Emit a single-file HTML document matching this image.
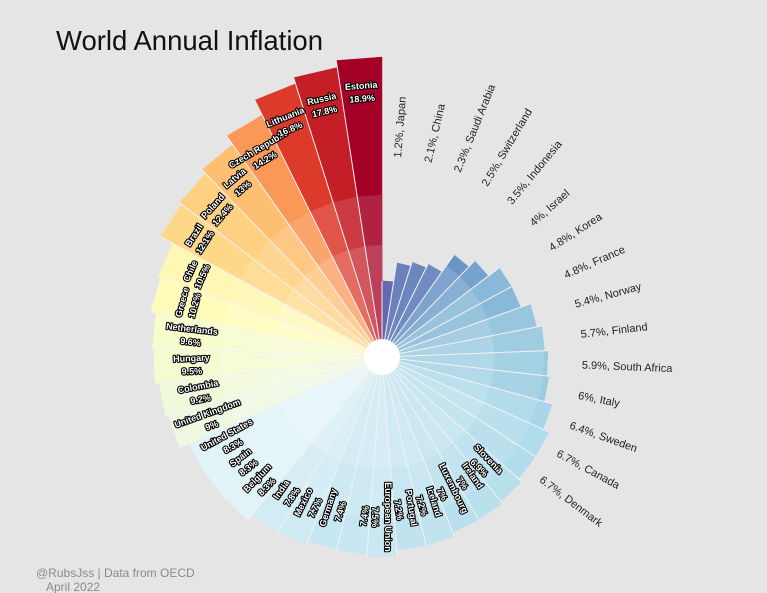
<!DOCTYPE html>
<html><head><meta charset="utf-8">
<style>
html,body{margin:0;padding:0;background:#e5e5e5;}
svg{display:block;font-family:"Liberation Sans",sans-serif;}
.in{font-weight:bold;font-size:9px;fill:#fff;stroke:#000;stroke-width:2.2px;paint-order:stroke;stroke-linejoin:round;}
.out{font-size:11px;fill:#222;}
</style></head>
<body>
<svg id="chart" width="767" height="593" viewBox="0 0 767 593">
<rect width="767" height="593" fill="#e5e5e5"/>
<text x="56" y="50" font-size="27.5" fill="#111">World Annual Inflation</text>
<g id="bars"></g>
<g id="seps"></g>
<g id="labels"></g>
<circle cx="382" cy="357" r="18" fill="#fff"/>
<text x="36" y="577" font-size="12" fill="#8a8a8a">@RubsJss | Data from OECD</text>
<text x="46" y="591" font-size="12" fill="#8a8a8a">April 2022</text>
</svg>
<script>
const countries = ["Japan","China","Saudi Arabia","Switzerland","Indonesia","Israel","Korea","France","Norway","Finland","South Africa","Italy","Sweden","Canada","Denmark","Slovenia","Ireland","Luxembourg","Iceland","Portugal","European Union","","Germany","Mexico","India","Belgium","Spain","United States","United Kingdom","Colombia","Hungary","Netherlands","Greece","Chile","Brazil","Poland","Latvia","Czech Republic","Lithuania","Russia","Estonia"];
const inflation = [1.2,2.1,2.3,2.5,3.5,4,4.8,4.8,5.4,5.7,5.9,6,6.4,6.7,6.7,6.9,7,7,7.2,7.2,7.5,7.4,7.4,7.7,7.8,8.3,8.3,8.3,9,9.2,9.5,9.6,10.2,10.5,12.1,12.4,13,14.2,16.8,17.8,18.9];
const valueText = ["1.2%","2.1%","2.3%","2.5%","3.5%","4%","4.8%","4.8%","5.4%","5.7%","5.9%","6%","6.4%","6.7%","6.7%","6.9%","7%","7%","7.2%","7.2%","7.5%","7.4%","7.4%","7.7%","7.8%","8.3%","8.3%","8.3%","9%","9.2%","9.5%","9.6%","10.2%","10.5%","12.1%","12.4%","13%","14.2%","16.8%","17.8%","18.9%"];
const palette = ["#313695","#4575b4","#74add1","#abd9e9","#e0f3f8","#ffffbf","#fee090","#fdae61","#f46d43","#d73027","#a50026"];
// radial scale knots (domain value -> pixel radius), a scale not data
const scaleDom = [0,1.2,3.5,5.9,7.5,9.6,12.1,14.2,18.9,25];
const scaleRng = [40,76,125,166,200,230,252,270,300,330];

const NS="http://www.w3.org/2000/svg";
const cx=382, cy=357;
const n=countries.length, step=360/n;
const vmin=Math.min(...inflation), vmax=Math.max(...inflation);
function rScale(v){
  for(let k=0;k<scaleDom.length-1;k++){
    if(v<=scaleDom[k+1]){const f=(v-scaleDom[k])/(scaleDom[k+1]-scaleDom[k]);return scaleRng[k]+f*(scaleRng[k+1]-scaleRng[k]);}
  }
  return scaleRng[scaleRng.length-1];
}
function pt(r,deg){const a=deg*Math.PI/180;return [cx+r*Math.sin(a),cy-r*Math.cos(a)];}
function hex(c){return [1,3,5].map(k=>parseInt(c.substr(k,2),16));}
function colorFor(v){
  let t=(v-vmin)/(vmax-vmin);t=Math.max(0,Math.min(1,t))*(palette.length-1);
  const k=Math.min(Math.floor(t),palette.length-2),f=t-k;
  const a=hex(palette[k]),b=hex(palette[k+1]);
  return a.map((x,j)=>x+(b[j]-x)*f);
}
function lighten(c,a){return 'rgb('+c.map(x=>Math.round(x+(255-x)*a)).join(',')+')';}
const bars=document.getElementById('bars'), labels=document.getElementById('labels'), seps=document.getElementById('seps');
function wedge(r,a0,a1,fill){
  const p0=pt(r,a0),p1=pt(r,a1);
  const el=document.createElementNS(NS,'polygon');
  el.setAttribute('points',cx+','+cy+' '+p0.join(',')+' '+p1.join(','));
  el.setAttribute('fill',fill);
  el.setAttribute('stroke',fill);el.setAttribute('stroke-width','0.4');
  return el;
}
for(let i=0;i<n;i++){
  const v=inflation[i], R=rScale(v), a0=i*step, a1=(i+1)*step, am=(a0+a1)/2;
  const c=colorFor(v);
  const g=document.createElementNS(NS,'g');
  
  
  g.appendChild(wedge(R,a0,a1,lighten(c,0)));
  g.appendChild(wedge(Math.min(R,162),a0,a1,lighten(c,0.13)));
  g.appendChild(wedge(Math.min(R,112),a0,a1,lighten(c,0.25)));
  bars.appendChild(g);
  const rs=Math.max(R,i>0?rScale(inflation[i-1]):R);
  const q=pt(rs,a0);
  const ln=document.createElementNS(NS,'line');
  
  
  ln.setAttribute('x1',cx);ln.setAttribute('y1',cy);ln.setAttribute('x2',q[0].toFixed(1));ln.setAttribute('y2',q[1].toFixed(1));
  ln.setAttribute('stroke','#f2f2f2');ln.setAttribute('stroke-width','1');
  seps.appendChild(ln);
  if(i<15){
    const p=pt(200,am);
    const t=document.createElementNS(NS,'text');
    
    
    t.setAttribute('class','out');
    t.setAttribute('transform','translate('+p[0].toFixed(1)+','+p[1].toFixed(1)+') rotate('+(am-90).toFixed(1)+')');
    t.setAttribute('dy','0.35em');
    t.textContent=valueText[i]+', '+countries[i];
    labels.appendChild(t);
  } else {
    let rot, rc;
    if(am<=180){rot=am-90;rc=R-40;}
    else if(am<280){rot=am-270;rc=R-38;}
    else {rot=am-360;rc=R-34;}
    const p=pt(rc,am);
    const g2=document.createElementNS(NS,'g');
    
    
    g2.setAttribute('transform','translate('+p[0].toFixed(1)+','+p[1].toFixed(1)+') rotate('+rot.toFixed(1)+')');
    const t1=document.createElementNS(NS,'text');
    
    
    t1.setAttribute('class','in');t1.setAttribute('text-anchor','middle');t1.setAttribute('y','-3');
    t1.textContent=countries[i];
    const t2=document.createElementNS(NS,'text');
    
    
    t2.setAttribute('class','in');t2.setAttribute('text-anchor','middle');t2.setAttribute('y','10');
    t2.textContent=valueText[i];
    g2.appendChild(t1);g2.appendChild(t2);
    labels.appendChild(g2);
  }
}
</script>
</body></html>
